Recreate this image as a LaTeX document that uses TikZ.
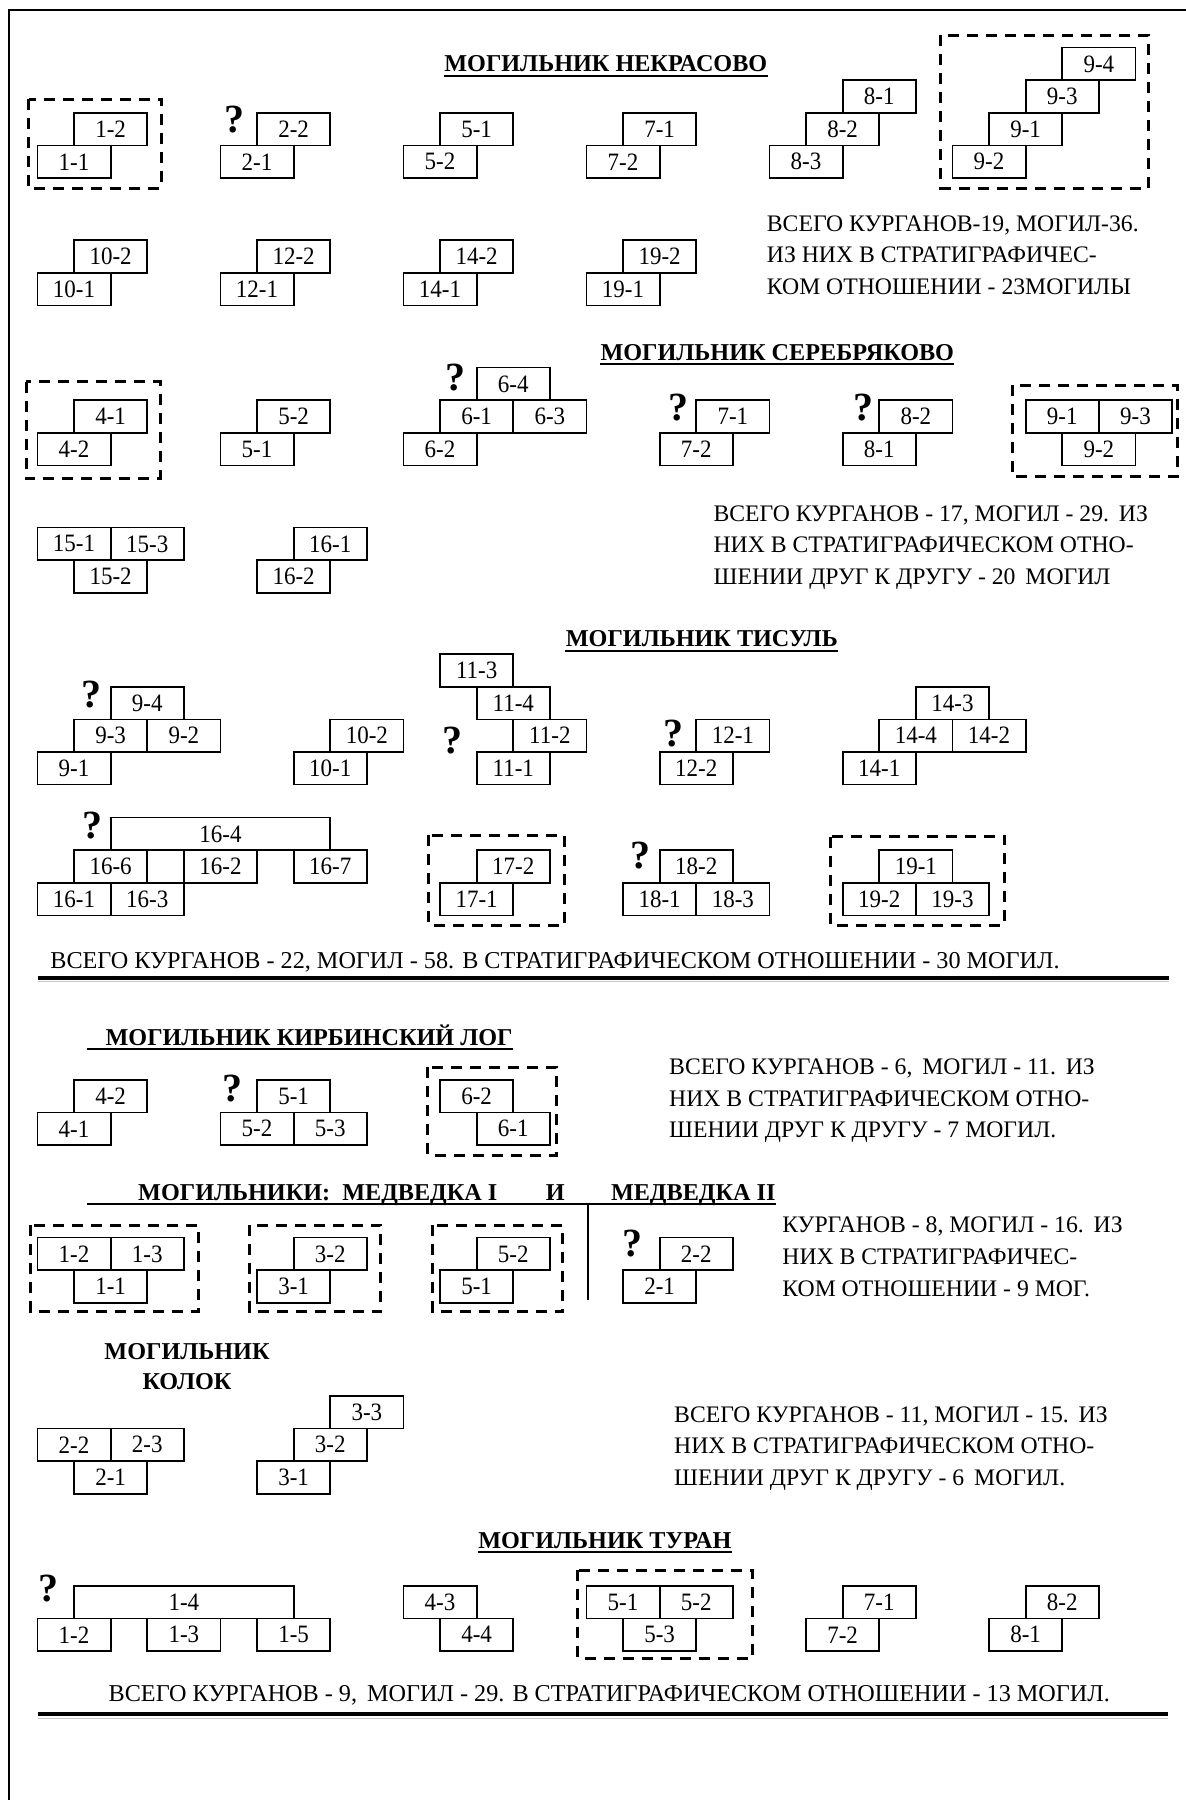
\documentclass[tikz,border=0pt]{standalone}
\usepackage{fontspec}
\setmainfont{Liberation Serif}
\newfontfamily\pitfont{Liberation Serif}[FakeStretch=0.92]
\newcommand{\cw}{36.6}
\tikzset{
  pit/.style={draw, line width=0.85pt, anchor=north west, inner sep=0pt,
              minimum width=36.6pt, minimum height=16.3pt,
              font=\pitfont\fontsize{12.5}{14}\selectfont},
  widepit/.style={pit, minimum width=109.8pt},
  dashgroup/.style={line width=1.5pt, dash pattern=on 5.5pt off 4pt},
  qmark/.style={anchor=base, inner sep=0pt, font=\fontsize{20}{20}\selectfont\bfseries},
  heading/.style={anchor=base, inner sep=0pt, font=\fontsize{12.1}{15}\selectfont\bfseries},
  note/.style={anchor=north west, inner sep=0pt, align=left,
               font=\fontsize{11.85}{15.85}\selectfont},
  total/.style={anchor=base west, inner sep=0pt, font=\fontsize{12.1}{15.85}\selectfont},
  uline/.style={line width=1pt},
  frameline/.style={line width=1pt},
  heavyrule/.style={line width=2.2pt}
}
\begin{document}
\begin{tikzpicture}[x=0.5pt,y=-0.5pt]
  \useasboundingbox (0,0) rectangle (1186,1800);
  \draw[frameline] (1186,10) -- (9.2,10) -- (9.2,1800);

  % Некрасово
  \node[heading] (nek-title) at (605.8,71.7) {МОГИЛЬНИК НЕКРАСОВО};
  \draw[uline] ([yshift=-2pt]nek-title.base west) -- ([yshift=-2pt]nek-title.base east);
  \node[pit] (nek-1-2) at (2*\cw,112) {1-2};
  \node[pit] (nek-1-1) at (1*\cw,144.6) {1-1};
  \draw[dashgroup] (28.7,99) rectangle (161.5,188.3);
  \node[qmark] (nek-q2) at (234.5,132) {?};
  \node[pit] (nek-2-2) at (7*\cw,112) {2-2};
  \node[pit] (nek-2-1) at (6*\cw,144.6) {2-1};
  \node[pit] (nek-5-1) at (12*\cw,112) {5-1};
  \node[pit] (nek-5-2) at (11*\cw,144.6) {5-2};
  \node[pit] (nek-7-1) at (17*\cw,112) {7-1};
  \node[pit] (nek-7-2) at (16*\cw,144.6) {7-2};
  \node[pit] (nek-8-1) at (23*\cw,79.3) {8-1};
  \node[pit] (nek-8-2) at (22*\cw,112) {8-2};
  \node[pit] (nek-8-3) at (21*\cw,144.6) {8-3};
  \node[pit] (nek-9-4) at (29*\cw,46.7) {9-4};
  \node[pit] (nek-9-3) at (28*\cw,79.3) {9-3};
  \node[pit] (nek-9-1) at (27*\cw,112) {9-1};
  \node[pit] (nek-9-2) at (26*\cw,144.6) {9-2};
  \draw[dashgroup] (940.9,35) rectangle (1148.3,188.3);
  \node[pit] (nek-10-2) at (2*\cw,239.3) {10-2};
  \node[pit] (nek-10-1) at (1*\cw,271.9) {10-1};
  \node[pit] (nek-12-2) at (7*\cw,239.3) {12-2};
  \node[pit] (nek-12-1) at (6*\cw,271.9) {12-1};
  \node[pit] (nek-14-2) at (12*\cw,239.3) {14-2};
  \node[pit] (nek-14-1) at (11*\cw,271.9) {14-1};
  \node[pit] (nek-19-2) at (17*\cw,239.3) {19-2};
  \node[pit] (nek-19-1) at (16*\cw,271.9) {19-1};
  \node[note] (nek-note) at (766.5,215)
    {ВСЕГО КУРГАНОВ-19, МОГИЛ-36.\\ИЗ НИХ В СТРАТИГРАФИЧЕС-\\КОМ ОТНОШЕНИИ - 23МОГИЛЫ};

  % Серебряково
  \node[heading] (ser-title) at (777.3,360) {МОГИЛЬНИК СЕРЕБРЯКОВО};
  \draw[uline] ([yshift=-2pt]ser-title.base west) -- ([yshift=-2pt]ser-title.base east);
  \node[pit] (ser-4-1) at (2*\cw,399.3) {4-1};
  \node[pit] (ser-4-2) at (1*\cw,431.9) {4-2};
  \draw[dashgroup] (26,381.7) rectangle (160,478.3);
  \node[pit] (ser-5-2) at (7*\cw,399.3) {5-2};
  \node[pit] (ser-5-1) at (6*\cw,431.9) {5-1};
  \node[qmark] (ser-q6) at (455,390) {?};
  \node[pit] (ser-6-4) at (13*\cw,366.7) {6-4};
  \node[pit] (ser-6-1) at (12*\cw,399.3) {6-1};
  \node[pit] (ser-6-3) at (14*\cw,399.3) {6-3};
  \node[pit] (ser-6-2) at (11*\cw,431.9) {6-2};
  \node[qmark] (ser-q7) at (678.5,420) {?};
  \node[pit] (ser-7-1) at (19*\cw,399.3) {7-1};
  \node[pit] (ser-7-2) at (18*\cw,431.9) {7-2};
  \node[qmark] (ser-q8) at (863,420) {?};
  \node[pit] (ser-8-2) at (24*\cw,399.3) {8-2};
  \node[pit] (ser-8-1) at (23*\cw,431.9) {8-1};
  \node[pit] (ser-9-1) at (28*\cw,399.3) {9-1};
  \node[pit] (ser-9-3) at (30*\cw,399.3) {9-3};
  \node[pit] (ser-9-2) at (29*\cw,431.9) {9-2};
  \draw[dashgroup] (1012.5,385) rectangle (1177,476.7);
  \node[pit] (ser-15-1) at (1*\cw,526.7) {15-1};
  \node[pit] (ser-15-3) at (3*\cw,526.7) {15-3};
  \node[pit] (ser-15-2) at (2*\cw,559.3) {15-2};
  \node[pit] (ser-16-1) at (8*\cw,526.7) {16-1};
  \node[pit] (ser-16-2) at (7*\cw,559.3) {16-2};
  \node[note] (ser-note) at (713.2,505)
    {ВСЕГО КУРГАНОВ - 17, МОГИЛ - 29.~\,ИЗ\\НИХ В СТРАТИГРАФИЧЕСКОМ ОТНО-\\ШЕНИИ ДРУГ К ДРУГУ - 20~\,МОГИЛ};

  % Тисуль
  \node[heading] (tis-title) at (701.8,646.7) {МОГИЛЬНИК ТИСУЛЬ};
  \draw[uline] ([yshift=-2pt]tis-title.base west) -- ([yshift=-2pt]tis-title.base east);
  \node[qmark] (tis-q9) at (91.8,707.3) {?};
  \node[pit] (tis-9-4) at (3*\cw,685.9) {9-4};
  \node[pit] (tis-9-3) at (2*\cw,718.5) {9-3};
  \node[pit] (tis-9-2) at (4*\cw,718.5) {9-2};
  \node[pit] (tis-9-1) at (1*\cw,751.1) {9-1};
  \node[pit] (tis-10-2) at (9*\cw,718.5) {10-2};
  \node[pit] (tis-10-1) at (8*\cw,751.1) {10-1};
  \node[pit] (tis-11-3) at (12*\cw,653.3) {11-3};
  \node[pit] (tis-11-4) at (13*\cw,685.9) {11-4};
  \node[pit] (tis-11-2) at (14*\cw,718.5) {11-2};
  \node[pit] (tis-11-1) at (13*\cw,751.1) {11-1};
  \node[qmark] (tis-q11) at (452.5,753.3) {?};
  \node[qmark] (tis-q12) at (673.4,746) {?};
  \node[pit] (tis-12-1) at (19*\cw,718.5) {12-1};
  \node[pit] (tis-12-2) at (18*\cw,751.1) {12-2};
  \node[pit] (tis-14-3) at (25*\cw,685.9) {14-3};
  \node[pit] (tis-14-4) at (24*\cw,718.5) {14-4};
  \node[pit] (tis-14-2) at (26*\cw,718.5) {14-2};
  \node[pit] (tis-14-1) at (23*\cw,751.1) {14-1};
  \node[qmark] (tis-q16) at (92,838.3) {?};
  \node[widepit] (tis-16-4) at (3*\cw,816.7) {16-4};
  \node[pit] (tis-16-6) at (2*\cw,849.3) {16-6};
  \node[pit] (tis-16-2) at (5*\cw,849.3) {16-2};
  \node[pit] (tis-16-7) at (8*\cw,849.3) {16-7};
  \node[pit] (tis-16-1) at (1*\cw,881.9) {16-1};
  \node[pit] (tis-16-3) at (3*\cw,881.9) {16-3};
  \node[pit] (tis-17-2) at (13*\cw,849.3) {17-2};
  \node[pit] (tis-17-1) at (12*\cw,881.9) {17-1};
  \draw[dashgroup] (428.6,835) rectangle (564.5,925);
  \node[qmark] (tis-q18) at (640.3,868.3) {?};
  \node[pit] (tis-18-2) at (18*\cw,849.3) {18-2};
  \node[pit] (tis-18-1) at (17*\cw,881.9) {18-1};
  \node[pit] (tis-18-3) at (19*\cw,881.9) {18-3};
  \node[pit] (tis-19-1) at (24*\cw,849.3) {19-1};
  \node[pit] (tis-19-2) at (23*\cw,881.9) {19-2};
  \node[pit] (tis-19-3) at (25*\cw,881.9) {19-3};
  \draw[dashgroup] (830.7,836.7) rectangle (1004.8,925);
  \node[total] (tis-total) at (50,968.3)
    {ВСЕГО КУРГАНОВ - 22, МОГИЛ - 58. В СТРАТИГРАФИЧЕСКОМ ОТНОШЕНИИ - 30 МОГИЛ.};
  \draw[heavyrule] (38.3,978) -- (1169.4,978);
  \draw[gray!45, line width=0.5pt] (38.3,981.8) -- (1169.4,981.8);

  % Кирбинский лог
  \node[heading, anchor=base west] (kir-title) at (105.2,1045) {МОГИЛЬНИК КИРБИНСКИЙ ЛОГ};
  \draw[uline] ([xshift=-9pt,yshift=-2pt]kir-title.base west) -- ([yshift=-2pt]kir-title.base east);
  \node[pit] (kir-4-2) at (2*\cw,1079) {4-2};
  \node[pit] (kir-4-1) at (1*\cw,1111.6) {4-1};
  \node[qmark] (kir-q5) at (232.7,1101.7) {?};
  \node[pit] (kir-5-1) at (7*\cw,1079) {5-1};
  \node[pit] (kir-5-2) at (6*\cw,1111.6) {5-2};
  \node[pit] (kir-5-3) at (8*\cw,1111.6) {5-3};
  \node[pit] (kir-6-2) at (12*\cw,1079) {6-2};
  \node[pit] (kir-6-1) at (13*\cw,1111.6) {6-1};
  \draw[dashgroup] (427.9,1067.3) rectangle (556.8,1155);
  \node[note] (kir-note) at (668.8,1058.3)
    {ВСЕГО КУРГАНОВ - 6,~\,МОГИЛ - 11.~\,ИЗ\\НИХ В СТРАТИГРАФИЧЕСКОМ ОТНО-\\ШЕНИИ ДРУГ К ДРУГУ - 7 МОГИЛ.};

  % Медведка I и II
  \node[heading, anchor=base west] (med-title) at (137.8,1200) {МОГИЛЬНИКИ:~~МЕДВЕДКА I};
  \node[heading, anchor=base west] (med-and) at (545.4,1200) {И};
  \node[heading, anchor=base west] (med-title2) at (610.6,1200) {МЕДВЕДКА II};
  \draw[uline] ([xshift=-25.25pt,yshift=-2pt]med-title.base west) -- ([yshift=-2pt]med-title2.base east);
  \draw[uline] (588,1204) -- (588,1300);
  \node[pit] (med-1-2) at (1*\cw,1236.7) {1-2};
  \node[pit] (med-1-3) at (3*\cw,1236.7) {1-3};
  \node[pit] (med-1-1) at (2*\cw,1269.3) {1-1};
  \draw[dashgroup] (30.6,1225) rectangle (198.2,1311.7);
  \node[pit] (med-3-2) at (8*\cw,1236.7) {3-2};
  \node[pit] (med-3-1) at (7*\cw,1269.3) {3-1};
  \draw[dashgroup] (249.5,1225) rectangle (380.8,1311.7);
  \node[pit] (med-5-2) at (13*\cw,1236.7) {5-2};
  \node[pit] (med-5-1) at (12*\cw,1269.3) {5-1};
  \draw[dashgroup] (432.5,1225) rectangle (562.6,1311.7);
  \node[qmark] (med-q2) at (632.6,1256.7) {?};
  \node[pit] (med-2-2) at (18*\cw,1236.7) {2-2};
  \node[pit] (med-2-1) at (17*\cw,1269.3) {2-1};
  \node[note] (med-note) at (782,1216.7)
    {КУРГАНОВ - 8, МОГИЛ - 16.~\,ИЗ\\НИХ В СТРАТИГРАФИЧЕС-\\КОМ ОТНОШЕНИИ - 9 МОГ.};

  % Колок
  \node[heading, anchor=north, align=center] (kol-title) at (187,1343.3) {МОГИЛЬНИК\\КОЛОК};
  \node[pit] (kol-2-2) at (1*\cw,1427.6) {2-2};
  \node[pit] (kol-2-3) at (3*\cw,1427.6) {2-3};
  \node[pit] (kol-2-1) at (2*\cw,1460.2) {2-1};
  \node[pit] (kol-3-3) at (9*\cw,1395) {3-3};
  \node[pit] (kol-3-2) at (8*\cw,1427.6) {3-2};
  \node[pit] (kol-3-1) at (7*\cw,1460.2) {3-1};
  \node[note] (kol-note) at (673.8,1406)
    {ВСЕГО КУРГАНОВ - 11, МОГИЛ - 15.~\,ИЗ\\НИХ В СТРАТИГРАФИЧЕСКОМ ОТНО-\\ШЕНИИ ДРУГ К ДРУГУ - 6~\,МОГИЛ.};

  % Туран
  \node[heading] (tur-title) at (604.8,1548.3) {МОГИЛЬНИК ТУРАН};
  \draw[uline] ([yshift=-2pt]tur-title.base west) -- ([yshift=-2pt]tur-title.base east);
  \node[qmark] (tur-q1) at (49,1601.7) {?};
  \node[widepit] (tur-1-4) at (2*\cw,1585) {1-4};
  \node[pit] (tur-1-2) at (1*\cw,1617.6) {1-2};
  \node[pit] (tur-1-3) at (4*\cw,1617.6) {1-3};
  \node[pit] (tur-1-5) at (7*\cw,1617.6) {1-5};
  \node[pit] (tur-4-3) at (11*\cw,1585) {4-3};
  \node[pit] (tur-4-4) at (12*\cw,1617.6) {4-4};
  \node[pit] (tur-5-1) at (16*\cw,1585) {5-1};
  \node[pit] (tur-5-2) at (18*\cw,1585) {5-2};
  \node[pit] (tur-5-3) at (17*\cw,1617.6) {5-3};
  \draw[dashgroup] (577.9,1570) rectangle (752.2,1658.3);
  \node[pit] (tur-7-1) at (23*\cw,1585) {7-1};
  \node[pit] (tur-7-2) at (22*\cw,1617.6) {7-2};
  \node[pit] (tur-8-2) at (28*\cw,1585) {8-2};
  \node[pit] (tur-8-1) at (27*\cw,1617.6) {8-1};
  \node[total] (tur-total) at (108.3,1701)
    {ВСЕГО КУРГАНОВ - 9,~\,МОГИЛ - 29. В СТРАТИГРАФИЧЕСКОМ ОТНОШЕНИИ - 13 МОГИЛ.};
  \draw[heavyrule] (38.3,1714) -- (1168.2,1714);
  \draw[gray!45, line width=0.5pt] (38.3,1718) -- (1168.2,1718);
\end{tikzpicture}
\end{document}
